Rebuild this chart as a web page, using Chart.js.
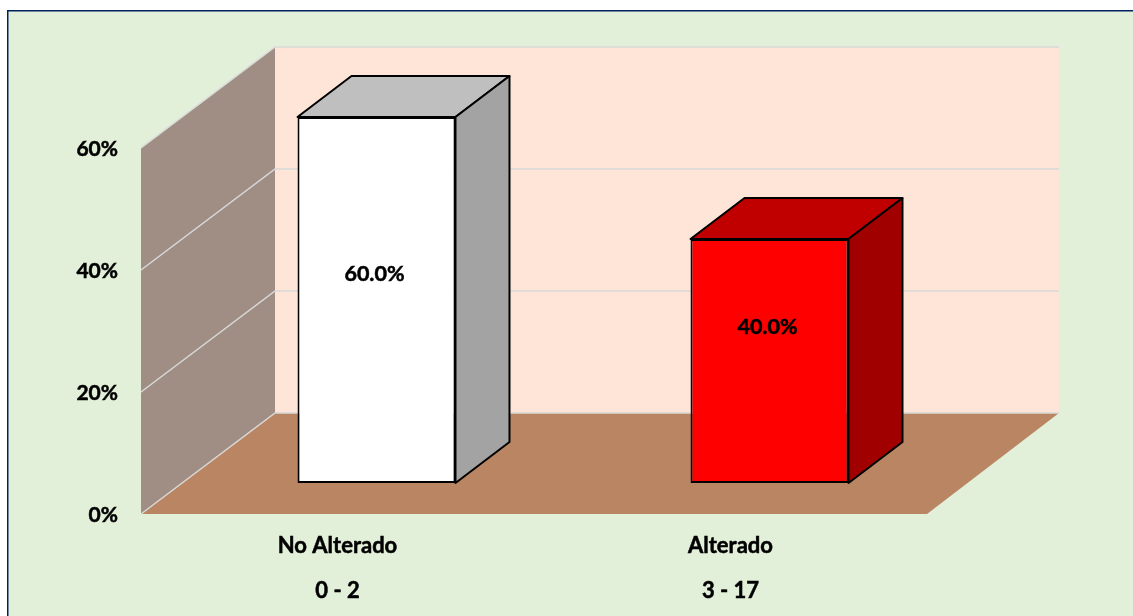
<!DOCTYPE html>
<html>
<head>
<meta charset="utf-8">
<script src="https://cdn.jsdelivr.net/npm/chart.js@4/dist/chart.umd.min.js"></script>
<style>
html, body { margin: 0; padding: 0; background: #fff; }
#wrap { width: 1133px; height: 616px; }
</style>
</head>
<body>
<div id="wrap"><canvas id="myChart" width="1133" height="616"></canvas></div>
<script>
var categories = [['No Alterado', '0 - 2'], ['Alterado', '3 - 17']];
var values = [0.6, 0.4];
var yTicks = [0, 0.2, 0.4, 0.6];

var frontColors = ['#ffffff', '#ff0000'];
var topColors = ['#bfbfbf', '#c00000'];
var sideColors = ['#a3a3a3', '#a00000'];

// depth of the box and how far the bars sit in from the front edge
var depthLeftX = 134, depthRightX = 132, depthY = -101;
var barDepthX = 54, barDepthY = -41;
var barInX = 39, barInY = -31;
var labelShiftX = [-2, -2];
var labelShiftY = [-26, -34];

function poly(ctx, pts, fill, stroke, lw){
	ctx.beginPath();
	ctx.moveTo(pts[0][0], pts[0][1]);
	for(var i = 1; i < pts.length; i++){
		ctx.lineTo(pts[i][0], pts[i][1]);
	}
	ctx.closePath();
	if(fill){
		ctx.fillStyle = fill;
		ctx.fill();
	}
	if(stroke){
		ctx.strokeStyle = stroke;
		ctx.lineWidth = lw;
		ctx.lineJoin = 'round';
		ctx.stroke();
	}
}

var frame3d = {
	id: 'frame3d',
	beforeDraw(chart){
		var ctx = chart.ctx;
		ctx.save();
		ctx.fillStyle = '#ffffff';
		ctx.fillRect(0, 0, chart.width, chart.height);
		ctx.fillStyle = '#e2efd9';
		ctx.fillRect(7, 10, chart.width - 7, chart.height - 10);
		ctx.strokeStyle = '#002060';
		ctx.lineWidth = 1.5;
		ctx.strokeRect(7.75, 10.75, chart.width + 5, chart.height + 5);
		ctx.restore();
	},
	beforeDatasetsDraw(chart){
		var ctx = chart.ctx;
		var a = chart.chartArea;
		var y = chart.scales.y;
		var l = a.left, r = a.right, b = a.bottom, t = a.top;
		var bl = l + depthLeftX, br = r + depthRightX;
		ctx.save();

		// back wall
		poly(ctx, [[bl,t+depthY],[br,t+depthY],[br,b+depthY],[bl,b+depthY]], '#fee5d8');
		// side wall
		poly(ctx, [[l,t],[bl,t+depthY],[bl,b+depthY],[l,b]], '#a08e84');
		// floor
		poly(ctx, [[l,b],[r,b],[br,b+depthY],[bl,b+depthY]], '#b98562');

		// gridlines bend round the corner of the two walls
		yTicks.forEach(function(v){
			var py = y.getPixelForValue(v);
			ctx.beginPath();
			ctx.moveTo(l, py);
			ctx.lineTo(bl, py+depthY);
			ctx.lineTo(br, py+depthY);
			ctx.strokeStyle = '#d9d9d9';
			ctx.lineWidth = 1.5;
			ctx.stroke();
		});
		ctx.restore();

		// top and side faces of each bar
		var meta = chart.getDatasetMeta(0);
		meta.data.forEach(function(bar, i){
			var x0 = bar.x - bar.width/2 + barInX, x1 = bar.x + bar.width/2 + barInX;
			var y0 = bar.y + barInY, y1 = bar.base + barInY;
			ctx.save();
			poly(ctx, [[x0,y0],[x1,y0],[x1+barDepthX,y0+barDepthY],[x0+barDepthX,y0+barDepthY]], topColors[i], '#000000', 2);
			poly(ctx, [[x1,y0],[x1+barDepthX,y0+barDepthY],[x1+barDepthX,y1+barDepthY],[x1,y1]], sideColors[i], '#000000', 2);
			ctx.restore();
		});
	},
	beforeDatasetDraw(chart){
		chart.ctx.save();
		chart.ctx.translate(barInX, barInY);
	},
	afterDatasetDraw(chart){
		chart.ctx.restore();
	},
	afterDatasetsDraw(chart){
		var ctx = chart.ctx;
		var meta = chart.getDatasetMeta(0);
		ctx.save();
		ctx.font = 'bold 21.5px Lato';
		ctx.fillStyle = '#000000';
		ctx.strokeStyle = '#000000';
		ctx.lineWidth = 0.5;
		ctx.textAlign = 'center';
		ctx.textBaseline = 'middle';
		meta.data.forEach(function(bar, i){
			var lx = bar.x + barInX + labelShiftX[i];
			var ly = (bar.y + bar.base)/2 + barInY + labelShiftY[i];
			var txt = (values[i]*100).toFixed(1) + '%';
			ctx.strokeText(txt, lx, ly);
			ctx.fillText(txt, lx, ly);
		});
		ctx.restore();
	}
};

var chart = new Chart(document.getElementById('myChart').getContext('2d'), {
	type: 'bar',
	data: {
		labels: categories,
		datasets: [{
			data: values,
			backgroundColor: frontColors,
			borderColor: '#000000',
			borderWidth: 2,
			borderSkipped: false,
			categoryPercentage: 1,
			barPercentage: 0.402
		}]
	},
	plugins: [frame3d],
	options: {
		responsive: false,
		animation: false,
		layout: { padding: { top: 148, right: 206, left: 0, bottom: 0 } },
		plugins: { legend: { display: false }, tooltip: { enabled: false } },
		scales: {
			x: {
				grid: { display: false },
				border: { display: false },
				afterFit(scale){ scale.height = 102; },
				ticks: {
					padding: 1,
					color: '#000000',
					maxRotation: 0,
					textStrokeColor: '#000000',
					textStrokeWidth: 0.5,
					font: { family: 'Lato', weight: 'bold', size: 22, lineHeight: 2.045 }
				}
			},
			y: {
				min: 0,
				max: 0.6,
				grid: { display: false },
				border: { display: false },
				afterFit(scale){ scale.width = 141; },
				afterBuildTicks(scale){
					scale.ticks = yTicks.map(function(v){ return { value: v }; });
				},
				ticks: {
					padding: 15,
					labelOffset: 1,
					color: '#000000',
					textStrokeColor: '#000000',
					textStrokeWidth: 0.5,
					font: { family: 'Lato', weight: 'bold', size: 21 },
					callback(v){ return Math.round(v*100) + '%'; }
				}
			}
		}
	}
});
</script>
</body>
</html>
